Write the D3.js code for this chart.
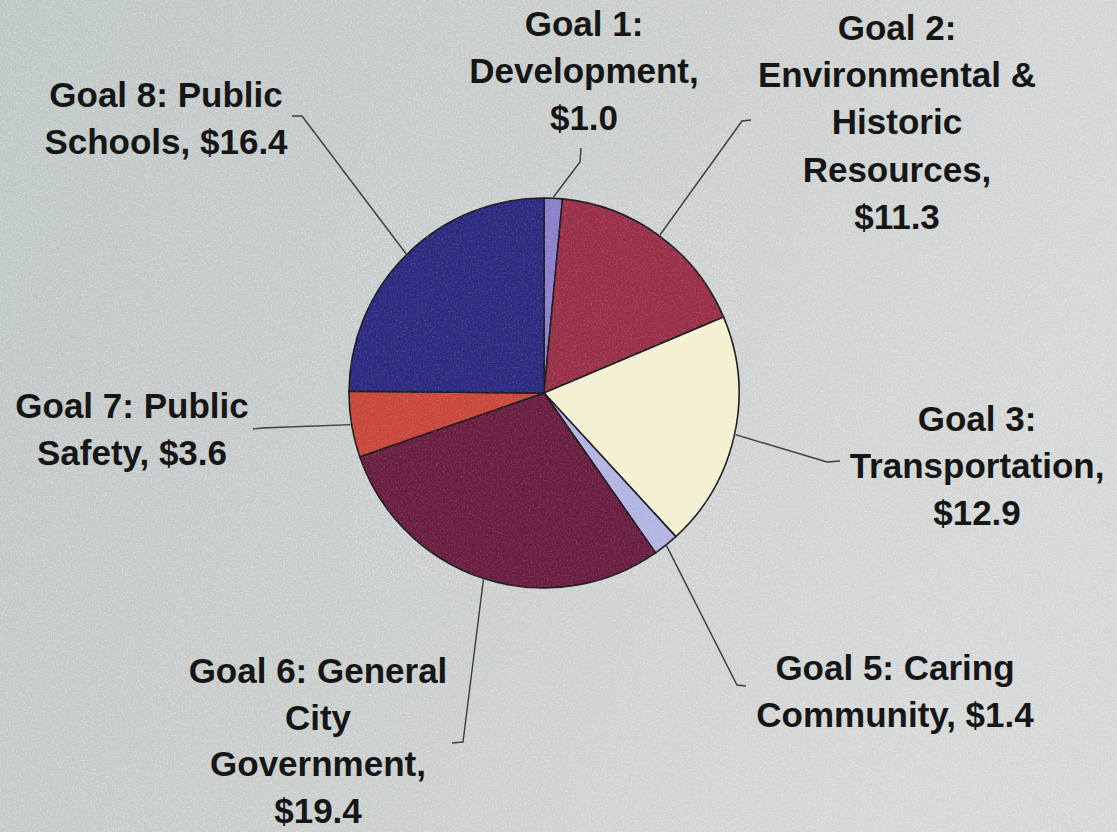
<!DOCTYPE html>
<html>
<head>
<meta charset="utf-8">
<script src="https://cdn.jsdelivr.net/npm/d3@7"></script>
<style>
  html, body { margin: 0; padding: 0; background: #c8cdcc; }
  svg { display: block; }
</style>
</head>
<body>
<svg id="chart" width="1117" height="832"></svg>
<script>
// ---- data ----
const categories = [
  "Goal 1: Development",
  "Goal 2: Environmental & Historic Resources",
  "Goal 3: Transportation",
  "Goal 5: Caring Community",
  "Goal 6: General City Government",
  "Goal 7: Public Safety",
  "Goal 8: Public Schools"
];
const values = [1.0, 11.3, 12.9, 1.4, 19.4, 3.6, 16.4];
// label text lines ({v} = formatted value)
const labelLines = [
  ["Goal 1:", "Development,", "{v}"],
  ["Goal 2:", "Environmental &", "Historic", "Resources,", "{v}"],
  ["Goal 3:", "Transportation,", "{v}"],
  ["Goal 5: Caring", "Community, {v}"],
  ["Goal 6: General", "City", "Government,", "{v}"],
  ["Goal 7: Public", "Safety, {v}"],
  ["Goal 8: Public", "Schools, {v}"]
];

// ---- layout / style ----
const colors = ["#8a80cc", "#9a3048", "#f3f1d2", "#b2b5e2", "#6a1e3f", "#c9473b", "#2b2a80"];
const cx = 544, cy = 393, R = 195;
// label anchor (center x, first baseline, line step) and leader elbow/end points
const labelPos = [
  {x: 584, y: 36, h: 47.2},
  {x: 897, y: 40, h: 47.2},
  {x: 977, y: 431, h: 47.2},
  {x: 895, y: 680, h: 47.2},
  {x: 318, y: 683, h: 46.6},
  {x: 132, y: 418, h: 47.2},
  {x: 166, y: 107, h: 47.2}
];
const leaderPts = [
  [[580, 162], [581, 148]],
  [[742, 121], [751, 120]],
  [[827, 462], [840, 461]],
  [[737, 685], [746, 686]],
  [[463, 742], [452, 743]],
  [[262, 428], [253, 429]],
  [[302, 116], [292, 116]]
];
const fmt = d3.format("$.1f");

const svg = d3.select("#chart");
const defs = svg.append("defs");

const grad = defs.append("linearGradient").attr("id", "bg").attr("x1", 0).attr("x2", 1).attr("y1", 0).attr("y2", 0.3);
grad.append("stop").attr("offset", "0%").attr("stop-color", "#bfc7c6");
grad.append("stop").attr("offset", "60%").attr("stop-color", "#cbcfce");
grad.append("stop").attr("offset", "100%").attr("stop-color", "#d6d8d8");

const noise = defs.append("filter").attr("id", "noise").attr("x", 0).attr("y", 0).attr("width", "100%").attr("height", "100%");
noise.append("feTurbulence").attr("type", "fractalNoise").attr("baseFrequency", 0.55).attr("numOctaves", 3).attr("seed", 4).attr("result", "t");
noise.append("feColorMatrix").attr("in", "t").attr("type", "matrix")
  .attr("values", "0 0 0 0 1  0 0 0 0 1  0 0 0 0 1  1.6 0 0 0 -0.75");

svg.append("rect").attr("width", 1117).attr("height", 832).attr("fill", "url(#bg)");
svg.append("rect").attr("width", 1117).attr("height", 832).attr("filter", "url(#noise)").attr("opacity", 0.6);

const pie = d3.pie().sort(null).value(d => d).startAngle(0).endAngle(2 * Math.PI);
const arcs = pie(values);
const arc = d3.arc().innerRadius(0).outerRadius(R);

const g = svg.append("g").attr("transform", `translate(${cx},${cy})`);
g.selectAll("path.slice").data(arcs).join("path")
  .attr("class", "slice")
  .attr("d", arc)
  .attr("fill", (d, i) => colors[i])
  .attr("stroke", "#1d1a22")
  .attr("stroke-width", 1.6)
  .attr("stroke-linejoin", "round");

// subtle texture over pie
svg.append("circle").attr("cx", cx).attr("cy", cy).attr("r", R - 1)
  .attr("filter", "url(#noise)").attr("opacity", 0.25);

// leader lines
const line = d3.line();
svg.selectAll("path.leader").data(arcs).join("path")
  .attr("class", "leader")
  .attr("d", (d, i) => {
    const a = (d.startAngle + d.endAngle) / 2;
    const start = [cx + (R + 1) * Math.sin(a), cy - (R + 1) * Math.cos(a)];
    return line([start, ...leaderPts[i]]);
  })
  .attr("fill", "none")
  .attr("stroke", "#3a3d42")
  .attr("stroke-width", 1.4);

// labels
svg.selectAll("text.lbl").data(arcs).join("text")
  .attr("class", "lbl")
  .attr("x", (d, i) => labelPos[i].x)
  .attr("y", (d, i) => labelPos[i].y)
  .attr("text-anchor", "middle")
  .attr("font-family", "'Liberation Sans', Arial, sans-serif")
  .attr("font-weight", "bold")
  .attr("font-size", 35)
  .attr("fill", "#161616")
  .each(function(d, i) {
    const t = d3.select(this);
    labelLines[i].forEach((ln, k) => {
      t.append("tspan")
        .attr("x", labelPos[i].x)
        .attr("y", labelPos[i].y + k * labelPos[i].h)
        .text(ln.replace("{v}", fmt(values[i])));
    });
  });
</script>
</body>
</html>
